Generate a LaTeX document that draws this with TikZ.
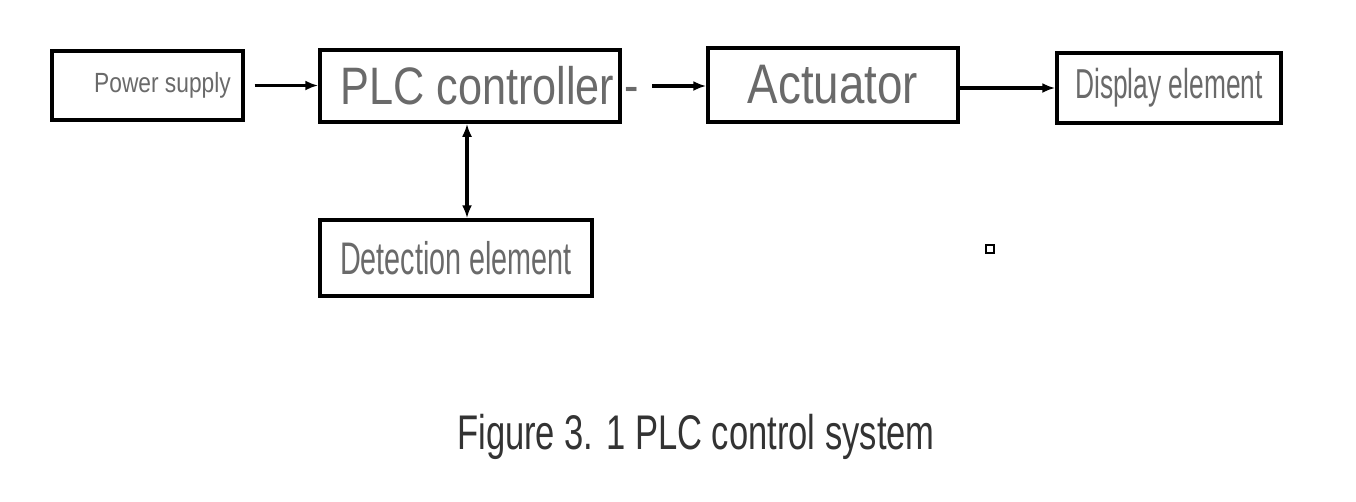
\documentclass[tikz,border=0pt]{standalone}
\usepackage{fontspec}
\setmainfont[FakeStretch=0.82]{Liberation Sans}
\newfontfamily\narrowfont[FakeStretch=0.63]{Liberation Sans}
\newfontfamily\capfont[FakeStretch=0.71]{Liberation Sans}
\usepackage{tikz}
\usetikzlibrary{positioning}
\usetikzlibrary{arrows.meta}

\definecolor{txtgray}{HTML}{6A6A6A}
\definecolor{capgray}{HTML}{333333}

\tikzset{
  block/.style={draw=black, line width=2pt, fill=white, inner sep=0pt, text=txtgray},
  flow/.style={line width=2pt, -{Latex[length=2.6mm,width=2mm]}},
  twoway/.style={line width=2pt, {Latex[length=2.6mm,width=2mm]}-{Latex[length=2.6mm,width=2mm]}}
}

\begin{document}
\begin{tikzpicture}[x=0.02cm, y=-0.02cm]

\useasboundingbox (0,0) rectangle (1356,501);

% blocks
{
\node[block, minimum width=3.82cm, minimum height=1.38cm] (power) at (147.5,85.5)
  {\fontsize{15.8}{18}\selectfont\hspace{0.6cm}\raisebox{-0.1cm}{Power supply}};
\node[block, minimum width=6cm, minimum height=1.44cm] (plc) at (470,86)
  {\fontsize{30}{34}\selectfont\hspace{0.3cm}PLC controller};
\node[block, minimum width=5cm, minimum height=1.48cm] (act) at (833,85)
  {\fontsize{31.7}{36}\selectfont\raisebox{-0.06cm}{Actuator}\hspace{0.45cm}};
\node[block, minimum width=4.48cm, minimum height=1.4cm] (disp) at (1169,88)
  {\narrowfont\fontsize{23.8}{27}\selectfont\raisebox{-0.06cm}{Display element}};
\node[block, minimum width=5.44cm, minimum height=1.52cm] (detect) at (456,258)
  {\narrowfont\fontsize{26}{30}\selectfont Detection element\hspace{0.25cm}};
}

% dash after the controller
\node[text=txtgray] (dash) at (632,95) {\fontsize{30}{34}\selectfont -};
\coordinate (dashend) at (652,86);

% small square
\node[draw=black, line width=0.8pt, minimum size=0.16cm, inner sep=0pt] (sq) at (990,249) {};

% arrows
{
\draw[flow] ([xshift=0.2cm]power.east) -- (plc.west |- power.east);
\draw[flow] (dashend) -- (act.west |- dashend);
\draw[flow] (act.east |- disp.west) -- (disp.west);
\draw[twoway] (plc.south -| 467,0) -- (detect.north -| 467,0);
}

% caption
\node[text=capgray] (caption) at (696,437)
  {\capfont\fontsize{27.7}{32}\selectfont Figure 3. 1 PLC control system};

\end{tikzpicture}
\end{document}
